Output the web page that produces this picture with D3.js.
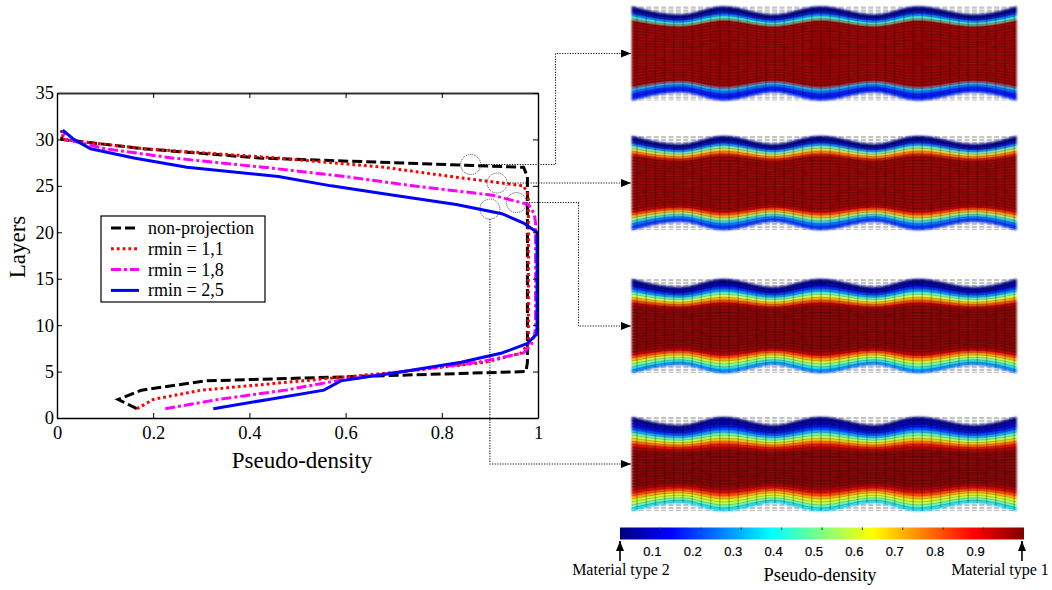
<!DOCTYPE html>
<html>
<head>
<meta charset="utf-8">
<script src="https://cdn.jsdelivr.net/npm/d3@7"></script>
<style>
    html, body { margin: 0; padding: 0; background: #fff; }
    svg { display: block; }
    text { font-family: 'Liberation Serif', serif; fill: #000; }
    .bar-label { font-family: 'Liberation Sans', sans-serif; font-size: 13px; fill: #000; stroke: #000; stroke-width: .2px; }
</style>
</head>
<body>
<svg class="fig"></svg>
<script>
// pseudo-density per layer
const layers = [1, 2, 3, 4, 5, 6, 7, 8, 9, 10, 11, 12, 13, 14, 15, 16, 17, 18, 19, 20, 21, 22, 23, 24, 25, 26, 27, 28, 29, 30, 31]
const nonProjection = [.166, .127, .176, .31, .975, .978, .978, .978, .978, .978, .978, .978, .978, .978, .978, .978, .978, .978, .978, .978, .978, .978, .978, .978, .978, .978, .97, .42, .18, .01, .01]
const rmin11 = [.166, .2, .3, .51, .72, .89, .965, .98, .98, .98, .98, .98, .98, .98, .98, .98, .98, .98, .98, .98, .98, .98, .98, .98, .97, .82, .68, .46, .18, .012, .012]
const rmin18 = [.225, .335, .475, .58, .72, .875, .97, .987, .993, .995, .995, .995, .995, .995, .995, .995, .995, .995, .995, .995, .995, .992, .98, .905, .74, .6, .43, .24, .1, .02, .012]
const rmin25 = [.325, .44, .555, .59, .72, .84, .925, .977, .997, .998, .998, .998, .998, .998, .998, .998, .998, .998, .998, .998, .97, .925, .83, .7, .57, .46, .27, .16, .07, .035, .012]

const seriesNames = ['non-projection', 'rmin = 1,1', 'rmin = 1,8', 'rmin = 2,5']
const seriesValues = [nonProjection, rmin11, rmin18, rmin25]
const seriesColors = ['#000', '#f00', '#f0f', '#00f']
const seriesDash = ['10 4', '2.8 3', '10 3 3 3', null]

const xTicks = [0, .2, .4, .6, .8, 1]
const yTicks = [0, 5, 10, 15, 20, 25, 30, 35]

// where the dashed circles sit on each curve
const circleX = [.86, .915, .955, .90]
const circleY = [27.3, 25.3, 23.2, 22.5]

// panel outline: swell of the mesh (in layers) along its width
const waveAt = [0, .125, .238, .368, .49, .63, .744, .889, 1]
const waveSwell = [0, -2.7, 0, -2.7, 0, -2.7, 0, -2.7, 0]

const barTicks = [.1, .2, .3, .4, .5, .6, .7, .8, .9]
const jetStops = [0, .125, .375, .625, .875, 1]
const jetColors = ['#00007f', '#0000ff', '#00ffff', '#ffff00', '#ff0000', '#7f0000']

const drawFigure = () => {

    const width = 1052
    const height = 590

    const plot = { left: 57, right: 538, top: 93, bottom: 418 }

    const svg = d3.select('.fig')
        .attr('width', width)
        .attr('height', height)

    const defs = svg.append('defs')

    const softFilter = (id, amount) => defs.append('filter')
        .attr('id', id)
        .attr('x', '-5%').attr('y', '-5%')
        .attr('width', '110%').attr('height', '110%')
        .append('feGaussianBlur')
        .attr('stdDeviation', amount)

    softFilter('soft', .8)
    softFilter('soft-mesh', .35)

    defs.append('marker')
        .attr('id', 'head')
        .attr('viewBox', '0 0 10 8')
        .attr('refX', 10)
        .attr('refY', 4)
        .attr('markerUnits', 'userSpaceOnUse')
        .attr('markerWidth', 10)
        .attr('markerHeight', 8)
        .attr('orient', 'auto')
        .append('path')
        .attr('d', 'M0,0L10,4L0,8Z')
        .attr('fill', '#000')

    const xScale = d3.scaleLinear()
        .domain([ 0, 1 ])
        .range([ plot.left, plot.right ])

    const yScale = d3.scaleLinear()
        .domain([ 0, 35 ])
        .range([ plot.bottom, plot.top ])

    const jet = d3.scaleLinear()
        .domain(jetStops)
        .range(jetColors)

    // curves
    const lineGen = d3.line()
        .x(d => xScale(d[0]))
        .y(d => yScale(d[1]))

    svg.selectAll('path.curve')
        .data(seriesValues)
        .enter()
        .append('path')
        .attr('class', 'curve')
        .attr('d', vals => lineGen(vals.map((v, i) => [ v, layers[i] ])))
        .attr('fill', 'none')
        .attr('stroke', (d, i) => seriesColors[i])
        .attr('stroke-width', 3)
        .attr('stroke-dasharray', (d, i) => seriesDash[i])

    // axes, ticks inward on all four sides
    const axisStyle = g => {
        g.selectAll('.domain').attr('stroke-width', 1.4).attr('stroke', '#000')
        g.selectAll('.tick line').attr('stroke-width', 1).attr('stroke', '#000')
    }

    const fmtX = d => d === 0 || d === 1 ? d : String(d)

    svg.append('g')
        .attr('transform', `translate(0, ${plot.bottom})`)
        .call(d3.axisBottom(xScale).tickValues(xTicks).tickSizeInner(-5).tickSizeOuter(0).tickFormat(fmtX).tickPadding(8))
        .call(axisStyle)
        .selectAll('text')
        .style('font-family', "'Liberation Serif', serif")
        .style('font-size', '18.5px')

    svg.append('g')
        .attr('transform', `translate(${plot.left}, 0)`)
        .call(d3.axisLeft(yScale).tickValues(yTicks).tickSizeInner(-5).tickSizeOuter(0).tickPadding(3))
        .call(axisStyle)
        .selectAll('text')
        .style('font-family', "'Liberation Serif', serif")
        .style('font-size', '18.5px')

    svg.append('g')
        .attr('transform', `translate(0, ${plot.top})`)
        .call(d3.axisTop(xScale).tickValues(xTicks).tickSizeInner(-5).tickSizeOuter(0).tickFormat(''))
        .call(axisStyle)
        .selectAll('.domain')
        .attr('stroke-width', 1.8)
        .attr('stroke', '#333')

    svg.append('g')
        .attr('transform', `translate(${plot.right}, 0)`)
        .call(d3.axisRight(yScale).tickValues(yTicks).tickSizeInner(-5).tickSizeOuter(0).tickFormat(''))
        .call(axisStyle)

    svg.append('text')
        .text('Pseudo-density')
        .attr('x', 302)
        .attr('y', 468)
        .style('text-anchor', 'middle')
        .style('font-size', '23px')

    svg.append('text')
        .text('Layers')
        .attr('transform', 'translate(25, 247) rotate(-90)')
        .style('text-anchor', 'middle')
        .style('font-size', '23px')

    // legend
    const legend = svg.append('g')

    legend.append('rect')
        .attr('x', 101)
        .attr('y', 216)
        .attr('width', 164)
        .attr('height', 86)
        .attr('fill', '#fff')
        .attr('stroke', '#000')
        .attr('stroke-width', 1.2)

    const rows = legend.selectAll('g')
        .data(seriesNames)
        .enter()
        .append('g')
        .attr('transform', (d, i) => `translate(111, ${228 + i * 20.8})`)

    rows.append('line')
        .attr('x2', 28)
        .attr('stroke', (d, i) => seriesColors[i])
        .attr('stroke-width', 3)
        .attr('stroke-dasharray', (d, i) => seriesDash[i])

    rows.append('text')
        .text(d => d)
        .attr('x', 37)
        .attr('y', 6)
        .style('font-size', '18px')

    // panels, one per curve, coloured by the same densities
    const panelBox = { left: 632, right: 1016.5, half: 47 }
    const panelMid = [ 53.5, 183, 326, 464 ]

    const panelX = d3.scaleLinear()
        .domain([ 0, 1 ])
        .range([ panelBox.left, panelBox.right ])

    const panelY = d3.scaleLinear()
        .domain([ -15.5, 15.5 ])
        .range([ panelBox.half, -panelBox.half ])

    // layer boundary b (0..31) at wave knot k
    const rowY = (b, k) => panelY((b - 15.5) * (15.5 + waveSwell[k]) / 15.5)

    const bandGen = b => d3.area()
        .x((d, k) => panelX(waveAt[k]))
        .y0((d, k) => rowY(b, k))
        .y1((d, k) => rowY(b + 1, k))
        .curve(d3.curveMonotoneX)(waveAt)

    const rowLine = b => d3.line()
        .x((d, k) => panelX(waveAt[k]))
        .y((d, k) => rowY(b, k))
        .curve(d3.curveMonotoneX)(waveAt)

    const outline = d3.area()
        .x((d, k) => panelX(waveAt[k]))
        .y0((d, k) => rowY(0, k))
        .y1((d, k) => rowY(31, k))
        .curve(d3.curveMonotoneX)(waveAt)

    defs.append('clipPath')
        .attr('id', 'mesh-clip')
        .append('path')
        .attr('d', outline)

    const greyCols = d3.range(panelBox.left + 2, panelBox.right, 7.4)
    const gridCols = d3.range(panelBox.left + 5, panelBox.right, 9.2)

    const panels = svg.selectAll('g.panel')
        .data(seriesValues)
        .enter()
        .append('g')
        .attr('class', 'panel')
        .attr('transform', (d, i) => `translate(0, ${panelMid[i]})`)

    // undeformed mesh showing behind the shrunk outline
    panels.append('g')
        .attr('filter', 'url(#soft-mesh)')
        .selectAll('line')
        .data(greyCols)
        .enter()
        .append('line')
        .attr('x1', d => d)
        .attr('x2', d => d)
        .attr('y1', -panelBox.half)
        .attr('y2', panelBox.half)
        .attr('stroke', '#c4c4c4')
        .attr('stroke-width', 5)
        .attr('stroke-dasharray', '2.2 .8')

    panels.each(function (vals) {
        const g = d3.select(this)

        g.append('g')
            .attr('filter', 'url(#soft)')
            .selectAll('path')
            .data(vals)
            .enter()
            .append('path')
            .attr('d', (v, i) => bandGen(i))
            .attr('fill', v => jet(v))
            .attr('stroke', v => jet(v))
            .attr('stroke-width', .4)

        const mesh = g.append('g')
            .attr('filter', 'url(#soft-mesh)')

        mesh.selectAll('path')
            .data(vals.slice(1))
            .enter()
            .append('path')
            .attr('d', (v, i) => rowLine(i + 1))
            .attr('fill', 'none')
            .attr('stroke', '#000')
            .attr('stroke-opacity', .3)
            .attr('stroke-width', .7)

        mesh.append('g')
            .attr('clip-path', 'url(#mesh-clip)')
            .selectAll('line')
            .data(gridCols)
            .enter()
            .append('line')
            .attr('x1', d => d)
            .attr('x2', d => d)
            .attr('y1', -panelBox.half)
            .attr('y2', panelBox.half)
            .attr('stroke', '#000')
            .attr('stroke-opacity', .22)
            .attr('stroke-width', 1.6)
    })

    // circles on the curves and the dotted leaders
    svg.selectAll('circle.mark')
        .data(circleX)
        .enter()
        .append('circle')
        .attr('class', 'mark')
        .attr('cx', d => xScale(d))
        .attr('cy', (d, i) => yScale(circleY[i]))
        .attr('r', 10)
        .attr('fill', 'none')
        .attr('stroke', '#333')
        .attr('stroke-width', .9)
        .attr('stroke-dasharray', '1 1')

    const leaderKnee = [ 555.5, null, 578.5, null ]

    const leaderPts = (d, i) => {
        const cx = xScale(d)
        const cy = yScale(circleY[i])
        const end = panelBox.left - 1
        if (i === 3) return [ [cx, cy + 10], [cx, panelMid[i]], [end, panelMid[i]] ]
        if (leaderKnee[i] === null) return [ [cx + 10, cy], [end, cy] ]
        return [ [cx + 10, cy], [leaderKnee[i], cy], [leaderKnee[i], panelMid[i]], [end, panelMid[i]] ]
    }

    svg.selectAll('path.leader')
        .data(circleX)
        .enter()
        .append('path')
        .attr('class', 'leader')
        .attr('d', (d, i) => d3.line()(leaderPts(d, i)))
        .attr('fill', 'none')
        .attr('stroke', '#111')
        .attr('stroke-width', 1.1)
        .attr('stroke-dasharray', '1.2 1.4')
        .attr('marker-end', 'url(#head)')

    // colour bar
    const barScale = d3.scaleLinear()
        .domain([ 0, 1 ])
        .range([ 620, 1024 ])

    const grad = defs.append('linearGradient')
        .attr('id', 'jet')

    grad.selectAll('stop')
        .data(jetStops)
        .enter()
        .append('stop')
        .attr('offset', d => d)
        .attr('stop-color', d => jet(d))

    svg.append('rect')
        .attr('x', barScale(0))
        .attr('y', 527.5)
        .attr('width', barScale(1) - barScale(0))
        .attr('height', 12)
        .attr('fill', 'url(#jet)')

    svg.selectAll('line.bar-tick')
        .data(barTicks)
        .enter()
        .append('line')
        .attr('class', 'bar-tick')
        .attr('x1', d => barScale(d))
        .attr('x2', d => barScale(d))
        .attr('y1', 527.5)
        .attr('y2', 530)
        .attr('stroke', '#333')

    svg.selectAll('text.bar-label')
        .data(barTicks)
        .enter()
        .append('text')
        .attr('class', 'bar-label')
        .attr('x', d => barScale(d) - 8)
        .attr('y', 556)
        .style('text-anchor', 'middle')
        .text(d => d)

    const barArrows = [ 0, .995 ]

    svg.selectAll('path.bar-arrow')
        .data(barArrows)
        .enter()
        .append('path')
        .attr('class', 'bar-arrow')
        .attr('d', d => `M${barScale(d)},561V541`)
        .attr('stroke', '#000')
        .attr('stroke-width', 1.6)
        .attr('marker-end', 'url(#head)')

    const endNames = [ 'Material type 2', 'Material type 1' ]
    const endX = [ 621, 1000 ]

    svg.selectAll('text.end-name')
        .data(endNames)
        .enter()
        .append('text')
        .attr('class', 'end-name')
        .attr('x', (d, i) => endX[i])
        .attr('y', 575)
        .style('text-anchor', 'middle')
        .style('font-size', '16px')
        .text(d => d)

    svg.append('text')
        .text('Pseudo-density')
        .attr('x', 820)
        .attr('y', 581)
        .style('text-anchor', 'middle')
        .style('font-size', '18.5px')
}

drawFigure()
</script>
</body>
</html>
